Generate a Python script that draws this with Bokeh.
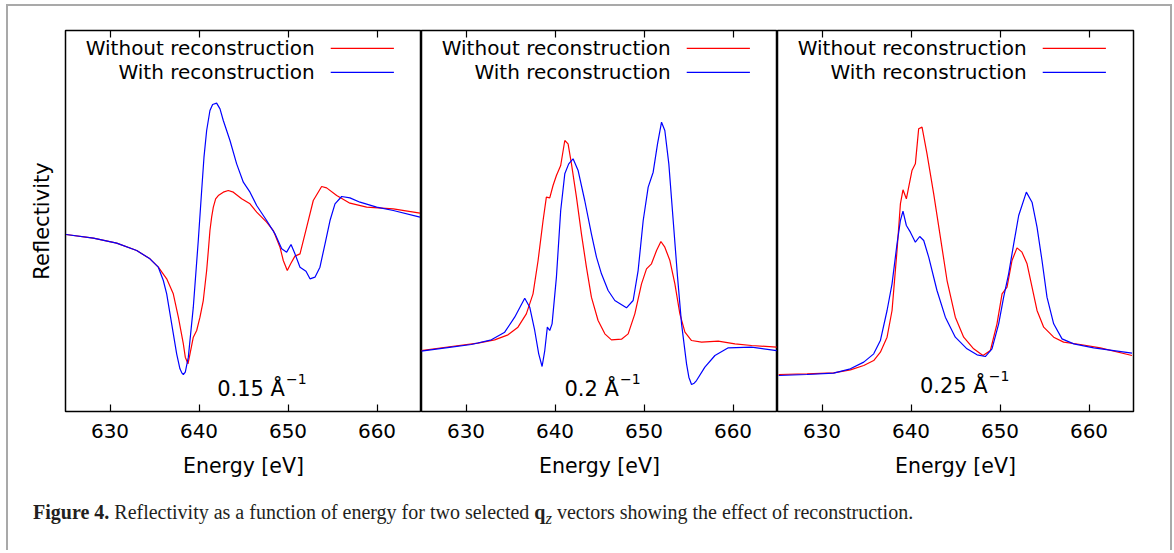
from bokeh.plotting import figure
from bokeh.layouts import row, column
from bokeh.models import Range1d, Label, Arrow, LinearAxis, FixedTicker, Div
from bokeh.embed import file_html
from bokeh.resources import INLINE

# ---------------- data ----------------
XTICKS = [630, 640, 650, 660]
SERIES_LABELS = ["Without reconstruction", "With reconstruction"]
QZ_LABELS = ["0.15 \u00c5", "0.2 \u00c5", "0.25 \u00c5"]
QZ_EXP = "\u22121"

# Panel 1: qz = 0.15 1/A
p1_red_e = [625.06, 628.13, 630.75, 633.0, 634.49, 635.43, 636.37, 637.11, 637.68, 638.24, 638.46,
            638.76, 638.99, 639.36, 639.74, 640.11, 640.48, 640.86, 641.05, 641.23, 641.42, 641.61,
            641.87, 642.17, 642.73, 643.29, 643.86, 644.79, 645.73, 646.48, 647.6, 648.35, 649.1,
            649.47, 649.92, 650.3, 650.78, 651.35, 652.1, 652.84, 653.78, 654.34, 655.47, 656.96,
            658.84, 661.83, 664.83]
p1_red_r = [46.45, 45.49, 44.18, 42.25, 40.07, 37.88, 34.82, 30.88, 24.76, 17.76, 14.26,
            12.51, 15.13, 19.51, 21.26, 24.76, 29.13, 37.01, 42.25, 47.5, 51.0, 53.63,
            55.82, 56.69, 57.57, 58.0, 57.57, 55.82, 54.5, 52.32, 49.69, 47.5, 43.13,
            39.63, 37.01, 38.76, 40.77, 41.38, 48.38, 55.38, 59.05, 58.7, 56.69, 54.68,
            53.63, 53.19, 52.05]
p1_blue_e = [625.06, 628.13, 630.75, 633.0, 634.49, 635.43, 635.99, 636.37, 636.93, 637.49, 637.86,
             638.09, 638.24, 638.46, 638.8, 639.06, 639.36, 639.92, 640.3, 640.56, 640.86, 641.23,
             641.53, 641.98, 642.36, 642.73, 643.48, 644.23, 644.98, 645.73, 646.48, 647.6, 648.54,
             649.29, 649.85, 650.34, 650.78, 651.35, 652.02, 652.47, 653.03, 653.59, 654.16, 654.72,
             655.28, 656.03, 656.96, 658.09, 659.96, 661.83, 664.83]
p1_blue_r = [46.45, 45.49, 44.18, 42.25, 40.07, 37.88, 34.38, 30.88, 23.01, 15.13, 11.2,
             10.06, 9.71, 10.32, 14.26, 20.38, 27.38, 44.88, 58.0, 66.75, 73.75, 79.0,
             80.58, 80.93, 79.44, 76.38, 71.13, 65.0, 60.19, 57.57, 54.07, 50.13, 46.63,
             42.69, 41.82, 43.83, 41.38, 37.88, 36.83, 34.82, 35.26, 37.88, 44.01, 50.13,
             54.5, 56.43, 56.08, 54.94, 53.63, 52.75, 51.0]

# Panel 2: qz = 0.2 1/A
p2_red_e = [624.97, 628.35, 631.34, 633.22, 634.72, 635.84, 636.78, 637.53, 638.1, 638.66, 639.03,
            639.41, 639.78, 640.16, 640.64, 641.1, 641.47, 641.85, 642.41, 642.97, 643.53, 644.09,
            644.84, 645.6, 646.34, 647.47, 648.22, 648.97, 649.72, 650.28, 650.84, 651.41, 651.9,
            652.34, 652.91, 653.47, 654.03, 654.6, 655.34, 656.47, 658.34, 660.22, 662.09, 664.9]
p2_red_r = [16.0, 17.06, 17.93, 18.81, 20.12, 22.13, 25.63, 30.88, 39.63, 50.13, 56.25,
            56.08, 59.31, 61.94, 64.56, 71.13, 70.25, 65.0, 56.25, 46.63, 37.88, 30.01,
            23.88, 20.38, 18.81, 18.98, 20.38, 25.63, 33.51, 37.44, 38.76, 42.25, 44.62,
            43.13, 39.63, 33.51, 25.63, 20.82, 18.63, 18.2, 18.46, 17.76, 17.32, 16.88]
p2_blue_e = [624.97, 628.35, 630.6, 632.85, 634.35, 635.47, 636.6, 637.16, 637.72, 638.17, 638.55,
             638.85, 639.14, 639.41, 639.67, 640.16, 640.64, 641.1, 641.54, 642.03, 642.6, 643.34,
             644.09, 644.66, 645.22, 645.97, 646.72, 648.03, 648.78, 649.34, 649.91, 650.47, 651.03,
             651.52, 651.97, 652.34, 652.79, 653.28, 653.77, 654.22, 654.78, 655.04, 655.34, 655.64,
             655.9, 656.84, 657.97, 659.47, 662.09, 664.9]
p2_blue_r = [15.83, 16.88, 17.58, 18.81, 20.82, 24.76, 29.74, 27.38, 21.26, 15.13, 11.81,
             16.0, 22.13, 21.26, 23.01, 35.26, 52.75, 62.38, 65.0, 66.31, 63.25, 55.38,
             46.63, 40.5, 36.13, 31.76, 29.13, 27.21, 29.13, 37.0, 50.13, 58.88, 62.81,
             70.25, 75.94, 73.75, 65.0, 50.13, 35.26, 23.01, 12.51, 9.01, 7.08, 7.43,
             8.13, 11.63, 14.7, 16.71, 16.88, 16.0]

# Panel 3: qz = 0.25 1/A
p3_red_e = [625.13, 628.32, 631.31, 633.19, 634.69, 635.81, 636.56, 637.31, 637.87, 638.43, 638.81,
            639.1, 639.48, 639.74, 640.11, 640.49, 640.86, 641.24, 641.8, 642.55, 643.3, 644.05,
            644.98, 645.92, 647.04, 648.09, 648.92, 649.66, 650.23, 650.79, 651.35, 651.91, 652.47,
            653.04, 653.6, 654.16, 654.91, 656.03, 657.15, 659.03, 661.27, 664.83]
p3_red_r = [9.71, 9.88, 10.15, 10.93, 12.07, 13.38, 15.57, 19.51, 26.51, 42.25, 54.5,
            58.18, 55.82, 58.88, 63.25, 65.0, 74.19, 74.63, 67.63, 57.13, 45.75, 34.38,
            24.76, 19.51, 16.45, 14.7, 16.01, 23.01, 30.88, 32.63, 39.63, 42.95, 41.82,
            38.76, 32.63, 26.51, 22.13, 19.51, 18.2, 17.58, 16.71, 14.7]
p3_blue_e = [625.13, 628.32, 631.31, 633.19, 634.69, 635.81, 636.56, 637.31, 637.87, 638.43, 638.81,
             639.1, 639.48, 639.93, 640.49, 640.98, 641.43, 641.99, 642.92, 643.86, 644.98, 646.29,
             647.42, 648.35, 649.1, 649.85, 650.41, 650.97, 651.54, 652.1, 652.96, 653.6, 654.16,
             654.72, 655.28, 656.03, 656.97, 658.28, 660.53, 664.83]
p3_blue_r = [9.45, 9.71, 10.06, 11.2, 12.95, 15.13, 18.63, 26.51, 33.51, 44.0, 50.13,
             52.58, 48.82, 47.07, 44.44, 45.93, 44.88, 40.5, 31.76, 24.76, 19.51, 16.45,
             14.87, 14.43, 16.45, 23.01, 30.01, 36.13, 44.0, 51.44, 57.57, 54.94, 48.38,
             39.63, 30.01, 23.01, 19.07, 17.76, 16.71, 15.31]

# ---------------- styling ----------------
RED = "#ff0000"
BLUE = "#0000ff"
FONT = "DejaVu Sans"
FRAME_W = 356
FRAME_H = 381
LEG_TEXT_X = 653.0
LEG_LINE_X0 = 654.8
LEG_LINE_X1 = 661.9
LEG_Y = [95.3, 89.0]


def make_panel(red_e, red_r, blue_e, blue_r, qz_text, qz_x, qz_y, first, last):
    p = figure(frame_width=FRAME_W, frame_height=FRAME_H,
               x_range=Range1d(625, 665), y_range=Range1d(0, 100),
               output_backend="svg", toolbar_location=None,
               x_axis_location=None, y_axis_location=None,
               min_border_left=57 if first else 0,
               min_border_right=28 if last else 0,
               min_border_top=24, min_border_bottom=79)
    p.grid.visible = False
    p.outline_line_color = "black"
    p.outline_line_width = 1.5
    p.background_fill_color = "white"
    p.border_fill_color = "white"

    xb = LinearAxis(ticker=FixedTicker(ticks=XTICKS), axis_label="Energy [eV]",
                    axis_line_color=None, major_tick_in=7, major_tick_out=0,
                    major_tick_line_color="black", major_tick_line_width=1.2,
                    minor_tick_line_color=None,
                    major_label_text_font=FONT, major_label_text_font_size="20px",
                    major_label_text_color="black", major_label_standoff=12,
                    axis_label_text_font=FONT, axis_label_text_font_size="20.5px",
                    axis_label_text_font_style="normal", axis_label_text_color="black",
                    axis_label_standoff=13)
    p.add_layout(xb, "below")
    xt = LinearAxis(ticker=FixedTicker(ticks=XTICKS), axis_line_color=None,
                    major_tick_in=7, major_tick_out=0,
                    major_tick_line_color="black", major_tick_line_width=1.2,
                    minor_tick_line_color=None, major_label_text_font_size="1px",
                    major_label_text_color=None, major_label_standoff=0)
    p.add_layout(xt, "above")
    if first:
        ya = LinearAxis(ticker=FixedTicker(ticks=[]), axis_label="Reflectivity",
                        axis_line_color=None, major_tick_line_color=None,
                        minor_tick_line_color=None,
                        axis_label_text_font=FONT, axis_label_text_font_size="21px",
                        axis_label_text_font_style="normal", axis_label_text_color="black",
                        axis_label_standoff=12)
        p.add_layout(ya, "left")

    p.line(red_e, red_r, line_color=RED, line_width=1.2)
    p.line(blue_e, blue_r, line_color=BLUE, line_width=1.2)

    for lab, col, y in zip(SERIES_LABELS, [RED, BLUE], LEG_Y):
        p.add_layout(Label(x=LEG_TEXT_X, y=y, text=lab, text_align="right",
                           text_baseline="middle", text_font=FONT,
                           text_font_size="20px", text_color="black"))
        p.add_layout(Arrow(start=None, end=None, x_start=LEG_LINE_X0, y_start=y,
                           x_end=LEG_LINE_X1, y_end=y, line_color=col, line_width=1.2))

    p.add_layout(Label(x=qz_x, y=qz_y, text=qz_text, text_align="right",
                       text_baseline="alphabetic", text_font=FONT,
                       text_font_size="21px", text_color="black"))
    p.add_layout(Label(x=qz_x, y=qz_y, x_offset=1, y_offset=10, text=QZ_EXP,
                       text_align="left", text_baseline="alphabetic", text_font=FONT,
                       text_font_size="14px", text_color="black"))
    return p


f1 = make_panel(p1_red_e, p1_red_r, p1_blue_e, p1_blue_r, QZ_LABELS[0], 649.66, 5.8, True, False)
f2 = make_panel(p2_red_e, p2_red_r, p2_blue_e, p2_blue_r, QZ_LABELS[1], 647.18, 6.0, False, False)
f3 = make_panel(p3_red_e, p3_red_r, p3_blue_e, p3_blue_r, QZ_LABELS[2], 648.62, 6.8, False, True)

caption = Div(
    text=('<div style="font-family:\'Liberation Serif\',serif;font-size:20px;color:#231f20;'
          'padding-left:20px;padding-top:3px;white-space:nowrap;">'
          '<b>Figure 4.</b> Reflectivity as a function of energy for two selected '
          '<b>q</b><sub><i>z</i></sub> vectors showing the effect of reconstruction.</div>'),
    width=1152, height=50)

layout = column(row(f1, f2, f3), caption, margin=(4, 0, 0, 6),
                styles={"border-top": "2px solid #a9a9a9", "border-left": "2px solid #a9a9a9",
                        "border-right": "2px solid #a9a9a9"})

open("out.html", "w").write(file_html(layout, INLINE))
